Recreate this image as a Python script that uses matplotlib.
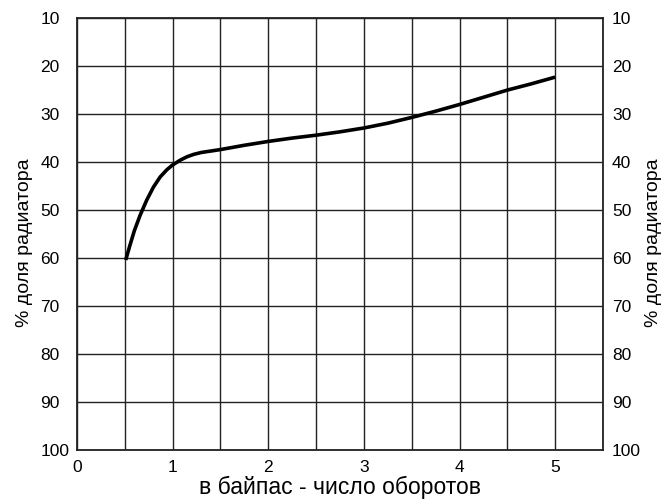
import numpy as np
import matplotlib
matplotlib.use('Agg')
import matplotlib.pyplot as plt

# Данные
turns = [0.51, 0.55, 0.6, 0.66, 0.73, 0.8, 0.87, 0.94, 1.0, 1.08, 1.15, 1.22, 1.3, 1.4, 1.5,
         1.75, 2.0, 2.25, 2.5, 2.75, 3.0, 3.25, 3.5, 3.75, 4.0, 4.25, 4.5, 4.75, 5.0]
radiator_pct = [60.4, 57.6, 54.3, 51.1, 47.9, 45.2, 43.1, 41.6, 40.6, 39.6, 38.9, 38.4, 38.0, 37.7, 37.4,
                36.5, 35.7, 35.0, 34.4, 33.7, 32.9, 31.9, 30.7, 29.4, 28.0, 26.5, 25.0, 23.7, 22.3]

x_ticks = [0, 1, 2, 3, 4, 5]
y_ticks = [10, 20, 30, 40, 50, 60, 70, 80, 90, 100]

plt.rcParams['font.family'] = ['Liberation Sans', 'DejaVu Sans']

fig = plt.figure(figsize=(6.67, 5.03), dpi=100)
ax = fig.add_axes([0.1154, 0.1054, 0.7886, 0.8586])

ax.plot(turns, radiator_pct, color='black', linewidth=2.6,
        solid_capstyle='butt', solid_joinstyle='round')

ax.set_xlim(0, 5.5)
ax.set_ylim(100, 10)

# Сетка
ax.set_xticks(np.arange(0, 5.51, 0.5), minor=True)
ax.set_xticks(x_ticks)
ax.set_yticks(y_ticks)
ax.grid(True, which='both', axis='x', color='#222222', linewidth=1.0)
ax.grid(True, axis='y', color='#222222', linewidth=1.0)
ax.tick_params(which='both', length=0)
ax.tick_params(axis='x', labelsize=12.5, pad=7)
ax.tick_params(axis='y', labelsize=12.5, pad=26.5)
for lbl in ax.get_yticklabels():
    lbl.set_ha('left')

for s in ax.spines.values():
    s.set_color('#222222')
    s.set_linewidth(1.3)

ax.set_xlabel('в байпас - число оборотов', fontsize=16.5, labelpad=1)
ax.set_ylabel('% доля радиатора', fontsize=14)
ax.yaxis.set_label_coords(-0.0837, 0.48)

# Правая ось - те же подписи
ax2 = ax.twinx()
ax2.set_ylim(100, 10)
ax2.set_yticks(y_ticks)
ax2.tick_params(axis='y', length=0, labelsize=12.5, pad=6.5)
ax2.set_ylabel('% доля радиатора', fontsize=14)
ax2.yaxis.set_label_coords(1.080, 0.48)
for s in ax2.spines.values():
    s.set_visible(False)

plt.savefig('out.png', dpi=100)
plt.close()
